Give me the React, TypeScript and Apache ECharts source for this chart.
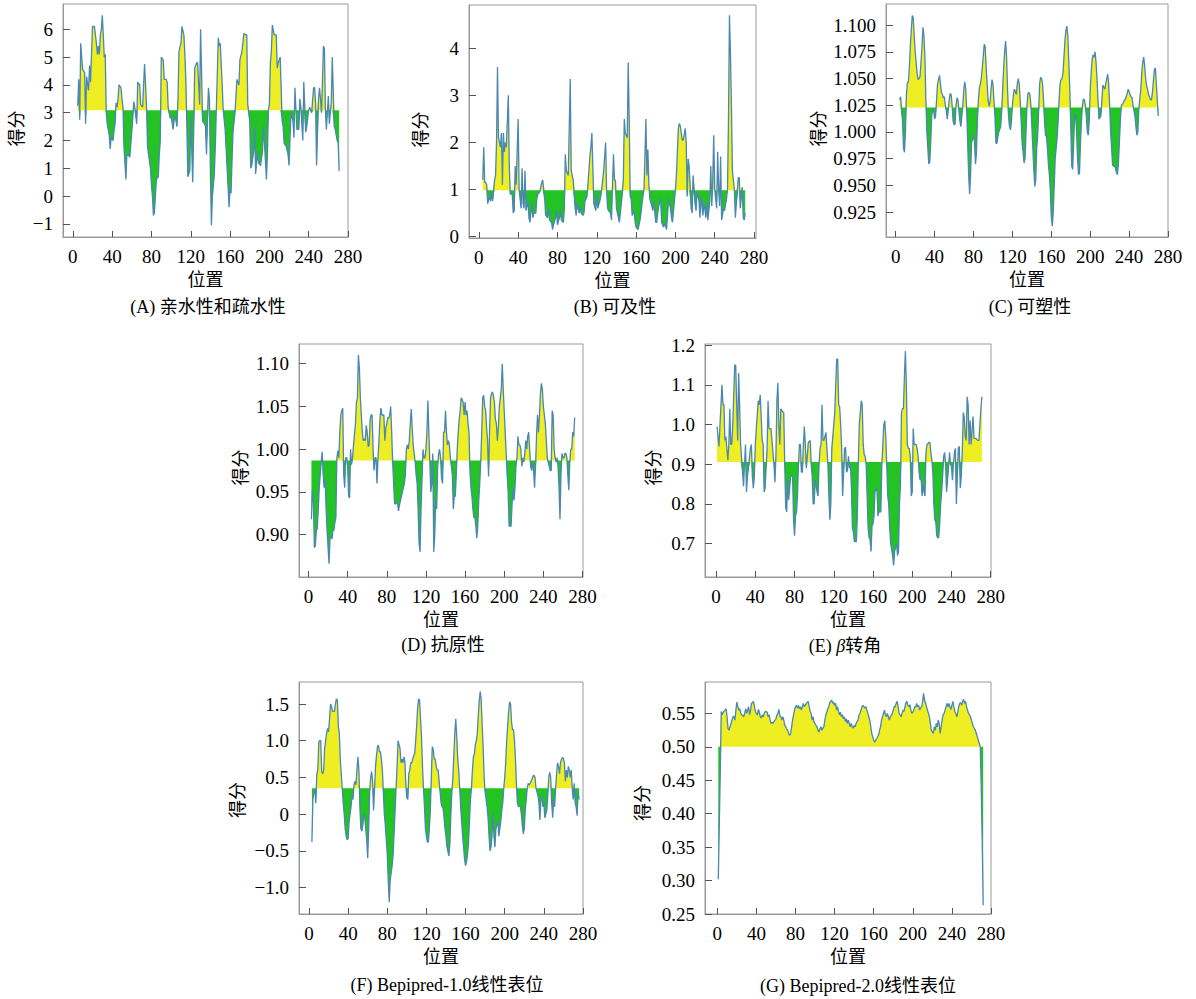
import React, { useEffect, useRef } from 'react';
import * as echarts from 'echarts';

// ---------- data: [position, score] ----------
const hydroA: number[][] = [[5,3.25],[6,4.2],[7,2.75],[8,5.5],[10,4.55],[12,4.45],[13,2.6],[14,4.3],[16,3.8],[17,4.7],[18,4.1],[20,6.1],[22,6.1],[24,5.5],[25,5.1],[26,5.4],[27,5.1],[28,5.8],[29,6.0],[30,6.5],[31,5.8],[32,5.0],[33,5.1],[34,3.0],[35,2.6],[37,2.2],[38,1.7],[39,2.1],[41,2.0],[42,2.4],[43,2.6],[44,3.35],[45,3.2],[46,3.5],[47,4.0],[49,3.9],[50,3.5],[51,3.2],[52,1.8],[54,0.6],[55,1.5],[57,1.45],[58,1.4],[60,2.3],[61,2.8],[62,3.4],[63,3.2],[65,2.6],[66,4.1],[68,4.0],[69,3.3],[71,3.2],[72,4.0],[73,4.75],[74,4.0],[75,3.2],[76,1.8],[77,1.5],[79,1.0],[80,0.4],[81,0.0],[82,-0.7],[83,-0.6],[84,0.0],[85,0.6],[87,0.7],[88,1.5],[89,2.0],[90,5.0],[92,4.9],[93,4.2],[95,4.2],[96,4.1],[97,3.2],[99,2.8],[100,2.9],[102,2.4],[103,2.7],[104,2.9],[106,2.5],[107,3.5],[108,5.2],[110,5.5],[111,6.1],[113,5.8],[114,5.1],[115,4.2],[116,2.6],[117,0.7],[119,0.9],[120,2.8],[122,0.5],[123,2.4],[124,4.6],[126,4.8],[127,4.8],[129,3.3],[130,6.0],[131,4.5],[132,2.7],[134,2.6],[135,2.5],[136,1.5],[138,3.9],[139,3.5],[140,0.8],[141,-1.05],[142,0.0],[144,0.8],[145,1.8],[146,3.1],[148,5.7],[149,5.4],[150,5.5],[152,4.0],[153,3.1],[155,2.4],[157,1.0],[159,-0.4],[160,0.3],[161,0.1],[162,1.3],[163,2.3],[165,3.0],[166,3.6],[167,4.2],[169,4.0],[170,4.9],[172,5.2],[173,5.5],[174,5.85],[176,5.8],[177,5.8],[178,3.3],[180,2.7],[181,1.0],[182,1.1],[184,1.6],[185,2.5],[186,0.8],[188,1.6],[189,1.2],[191,1.1],[193,1.6],[194,2.5],[195,1.9],[197,0.6],[198,1.5],[199,3.1],[200,3.3],[201,4.8],[202,5.2],[203,6.15],[205,5.8],[207,5.8],[208,4.6],[209,4.8],[211,5.0],[213,2.7],[214,2.5],[215,1.9],[217,1.8],[219,1.5],[220,1.1],[222,3.0],[224,2.7],[225,2.1],[226,3.9],[227,3.1],[228,2.4],[230,2.4],[231,3.5],[232,3.2],[234,2.0],[235,4.1],[237,2.3],[238,2.5],[240,3.1],[241,3.2],[243,3.0],[245,3.9],[246,3.9],[247,3.4],[248,1.1],[250,3.5],[251,3.9],[252,3.5],[253,3.0],[254,4.1],[255,5.4],[256,5.3],[257,3.1],[258,2.4],[259,3.0],[260,3.6],[261,2.6],[262,3.0],[263,3.4],[264,5.0],[266,2.5],[267,2.4],[269,2.0],[270,1.9],[271,0.9]];

const accessB: number[][] = [[4,1.2],[5,1.9],[6,1.15],[7,1.15],[8,1.1],[9,0.7],[11,0.85],[12,0.75],[13,0.95],[14,0.75],[16,1.2],[17,1.3],[18,2.0],[19,3.6],[20,2.1],[22,1.9],[23,2.2],[24,1.1],[25,2.2],[26,1.8],[27,2.0],[28,1.9],[30,3.0],[31,1.5],[32,0.9],[34,0.9],[35,0.5],[36,0.55],[37,1.5],[38,1.1],[40,2.5],[41,1.0],[42,0.8],[43,0.6],[44,1.45],[45,0.7],[46,0.6],[47,1.4],[48,0.55],[50,0.75],[51,0.4],[52,0.3],[54,0.7],[55,0.4],[56,0.5],[58,0.5],[59,0.8],[60,0.9],[62,0.95],[64,1.15],[65,1.2],[67,0.8],[68,0.45],[70,0.4],[71,0.6],[72,0.35],[74,0.3],[75,0.15],[76,0.25],[78,0.4],[79,0.55],[80,0.25],[82,0.4],[83,0.55],[84,0.35],[86,0.3],[87,0.6],[88,1.75],[89,1.4],[91,1.3],[93,3.35],[94,1.4],[95,1.3],[96,1.2],[98,0.6],[99,0.45],[100,0.7],[102,0.5],[103,0.65],[104,0.5],[106,0.45],[107,0.5],[108,0.75],[110,0.85],[111,1.1],[113,1.7],[114,1.9],[115,2.2],[116,1.5],[117,0.7],[119,0.55],[120,0.9],[121,0.6],[123,0.75],[124,0.85],[125,1.0],[127,1.4],[128,1.7],[129,2.0],[130,1.0],[131,0.6],[132,0.55],[134,0.5],[135,0.35],[136,1.1],[137,1.75],[138,1.2],[139,1.2],[140,0.6],[141,0.5],[143,0.3],[144,0.5],[145,0.7],[147,1.2],[148,2.5],[149,2.2],[151,2.1],[152,3.7],[153,2.5],[154,0.85],[155,0.8],[156,0.45],[158,0.55],[159,0.3],[160,0.2],[162,0.15],[163,0.25],[164,0.35],[165,0.5],[166,0.7],[168,1.0],[169,1.7],[170,2.5],[171,1.3],[172,1.85],[173,1.1],[174,0.8],[176,0.65],[177,0.55],[178,0.75],[180,0.3],[181,0.3],[182,0.5],[184,0.75],[185,0.8],[186,0.3],[188,0.2],[189,0.3],[191,0.15],[192,0.45],[193,0.8],[195,0.6],[196,0.4],[197,0.3],[199,0.75],[200,1.0],[201,1.3],[203,2.3],[204,2.4],[205,2.35],[207,2.05],[208,2.05],[210,2.3],[211,2.0],[212,0.85],[213,1.65],[214,1.5],[216,0.6],[217,0.5],[218,1.3],[220,0.7],[221,0.55],[222,0.95],[224,0.75],[225,0.4],[226,0.85],[228,0.45],[229,0.75],[231,0.4],[232,0.7],[233,0.35],[235,0.75],[236,1.5],[237,0.65],[238,1.2],[239,2.15],[240,1.0],[242,0.6],[243,1.8],[244,1.0],[245,0.65],[246,1.7],[247,0.35],[249,0.6],[250,0.55],[252,0.8],[253,1.0],[254,2.5],[255,4.7],[256,3.9],[257,2.8],[258,1.4],[260,1.0],[261,0.4],[262,0.7],[264,1.25],[265,1.25],[266,0.6],[268,1.05],[269,0.4],[270,0.35],[271,0.5]];

const flexC: number[][] = [[4,1.030],[5,1.033],[7,1.010],[8,0.985],[9,0.981],[10,1.000],[11,1.035],[12,1.046],[13,1.047],[14,1.060],[15,1.080],[16,1.095],[17,1.109],[18,1.107],[19,1.090],[20,1.075],[22,1.055],[23,1.049],[24,1.050],[25,1.052],[26,1.065],[27,1.080],[28,1.098],[29,1.090],[30,1.070],[31,1.030],[32,1.000],[34,0.970],[35,0.972],[36,0.990],[37,1.015],[38,1.021],[39,1.020],[40,1.012],[41,1.015],[42,1.030],[43,1.045],[45,1.053],[46,1.045],[47,1.037],[48,1.035],[49,1.032],[50,1.033],[51,1.025],[52,1.020],[53,1.012],[54,1.020],[55,1.030],[56,1.036],[57,1.035],[58,1.025],[59,1.010],[60,1.007],[61,1.007],[62,1.025],[63,1.032],[64,1.030],[65,1.020],[66,1.010],[67,1.005],[68,1.015],[69,1.025],[70,1.040],[71,1.047],[72,1.040],[73,1.020],[74,0.990],[75,0.960],[76,0.942],[77,0.960],[78,0.990],[80,0.997],[81,0.990],[82,0.970],[83,0.980],[84,1.010],[85,1.030],[86,1.041],[87,1.045],[88,1.050],[89,1.060],[90,1.070],[91,1.082],[92,1.080],[93,1.060],[94,1.045],[95,1.030],[96,1.024],[97,1.028],[98,1.040],[99,1.049],[100,1.045],[101,1.030],[102,1.015],[103,0.990],[104,0.989],[105,0.995],[106,1.000],[108,1.005],[109,1.020],[110,1.040],[111,1.060],[112,1.075],[113,1.085],[114,1.070],[115,1.040],[116,1.015],[117,1.005],[118,1.002],[119,1.010],[120,1.025],[121,1.035],[122,1.040],[123,1.038],[124,1.035],[125,1.045],[126,1.050],[127,1.045],[128,1.030],[129,1.010],[130,0.990],[132,0.971],[133,0.975],[134,1.000],[135,1.025],[136,1.036],[137,1.037],[138,1.035],[139,1.025],[140,1.005],[141,0.985],[142,0.965],[143,0.949],[144,0.955],[145,0.985],[146,0.996],[147,1.020],[148,1.045],[149,1.051],[150,1.050],[151,1.045],[152,1.030],[153,1.010],[154,0.997],[155,0.996],[156,0.985],[157,0.970],[158,0.960],[159,0.945],[160,0.920],[161,0.912],[162,0.925],[163,0.950],[164,0.975],[166,0.995],[167,1.010],[168,1.030],[169,1.045],[170,1.049],[171,1.050],[172,1.055],[173,1.070],[174,1.085],[175,1.095],[176,1.099],[177,1.090],[178,1.065],[179,1.040],[180,1.005],[181,0.968],[182,0.965],[183,0.990],[184,1.017],[185,1.015],[186,1.000],[187,0.975],[188,0.960],[189,0.962],[190,0.990],[191,1.010],[192,1.025],[193,1.031],[194,1.030],[195,1.025],[196,1.015],[197,1.000],[198,0.997],[199,1.010],[200,1.040],[201,1.055],[202,1.068],[203,1.072],[204,1.070],[205,1.075],[206,1.065],[207,1.050],[208,1.030],[209,1.012],[211,1.015],[212,1.030],[213,1.044],[214,1.042],[215,1.040],[216,1.045],[217,1.050],[218,1.054],[219,1.045],[220,1.025],[221,1.000],[222,0.985],[223,0.969],[224,0.968],[225,0.968],[226,0.966],[227,0.962],[228,0.960],[229,0.970],[230,0.990],[231,1.010],[232,1.025],[233,1.026],[234,1.027],[235,1.030],[236,1.030],[237,1.033],[238,1.036],[239,1.040],[240,1.038],[241,1.035],[242,1.033],[243,1.032],[244,1.025],[245,1.020],[246,1.015],[247,1.005],[248,0.997],[249,1.000],[250,1.022],[252,1.040],[253,1.055],[254,1.065],[255,1.070],[256,1.062],[257,1.050],[258,1.043],[259,1.040],[260,1.035],[261,1.033],[262,1.030],[263,1.030],[264,1.037],[265,1.048],[266,1.058],[267,1.060],[268,1.045],[269,1.030],[270,1.015]];

const antigenD: number[][] = [[3,0.918],[4,0.952],[5,0.940],[6,0.885],[7,0.887],[8,0.905],[9,0.907],[10,0.930],[11,0.955],[12,0.970],[13,0.985],[14,0.997],[15,0.970],[16,0.955],[17,0.965],[18,0.930],[19,0.905],[20,0.885],[21,0.866],[22,0.895],[23,0.900],[24,0.895],[25,0.905],[26,0.905],[27,0.915],[28,0.920],[29,0.990],[30,0.998],[31,0.990],[32,1.020],[33,1.040],[34,1.045],[35,1.048],[36,0.970],[37,0.955],[38,0.990],[39,0.990],[40,0.980],[41,0.945],[42,0.943],[43,1.000],[44,0.982],[45,0.990],[46,1.005],[48,1.030],[49,1.055],[50,1.060],[51,1.110],[52,1.095],[53,1.060],[54,1.040],[55,1.020],[56,1.010],[57,1.012],[58,1.010],[59,1.028],[60,1.020],[61,1.003],[62,1.005],[63,1.035],[64,1.040],[65,1.040],[66,1.000],[67,0.975],[68,0.990],[69,0.990],[70,0.960],[71,0.990],[72,1.010],[73,1.035],[74,1.048],[75,1.040],[76,1.040],[77,1.040],[78,1.010],[79,1.025],[80,1.030],[81,1.037],[82,1.036],[83,1.040],[84,1.050],[85,1.020],[86,0.985],[87,0.960],[88,0.936],[89,0.936],[90,0.937],[91,0.936],[92,0.928],[93,0.935],[94,0.940],[95,0.945],[97,0.955],[98,0.960],[99,0.970],[100,1.000],[101,1.005],[102,1.000],[103,1.010],[104,1.030],[105,1.047],[106,1.025],[107,1.005],[108,0.995],[109,0.985],[110,0.970],[111,0.960],[112,0.930],[113,0.890],[114,0.880],[115,0.930],[116,0.965],[117,1.000],[118,0.990],[119,0.990],[120,1.000],[121,1.020],[122,1.057],[123,1.020],[124,0.985],[125,0.950],[126,0.960],[127,0.995],[128,0.880],[129,0.900],[130,0.940],[131,0.930],[132,0.980],[133,0.995],[134,1.000],[135,0.990],[136,0.965],[137,0.960],[138,1.020],[139,1.020],[140,1.045],[141,1.020],[142,1.005],[143,1.010],[144,1.005],[145,0.990],[147,0.970],[148,0.930],[149,0.945],[150,0.945],[151,0.970],[152,1.000],[153,1.020],[154,1.035],[155,1.045],[156,1.060],[157,1.058],[158,1.055],[159,1.040],[160,1.055],[161,1.040],[162,1.045],[163,1.030],[164,1.020],[165,0.975],[166,0.955],[167,0.945],[168,0.930],[169,0.920],[170,0.920],[171,0.910],[172,0.896],[173,0.910],[174,0.940],[175,0.960],[176,0.985],[177,1.020],[178,1.060],[179,1.063],[180,1.050],[181,1.045],[182,1.025],[183,1.010],[184,0.968],[185,1.020],[186,1.060],[187,1.065],[188,1.067],[189,1.062],[190,1.055],[191,1.035],[192,1.030],[193,1.010],[194,1.025],[195,1.050],[197,1.070],[198,1.100],[199,1.070],[200,1.045],[201,1.020],[202,0.995],[203,0.970],[204,0.950],[205,0.910],[206,0.910],[207,0.910],[208,0.935],[209,0.955],[210,0.940],[211,0.955],[212,0.980],[213,0.990],[214,1.015],[215,1.005],[216,1.005],[217,1.000],[218,0.980],[219,0.990],[220,0.985],[221,0.995],[222,1.010],[223,1.000],[224,1.015],[225,1.020],[226,1.000],[227,0.980],[228,0.975],[229,0.985],[230,0.975],[231,0.955],[232,0.980],[233,1.015],[234,1.040],[235,1.020],[236,1.040],[237,1.065],[238,1.077],[239,1.070],[240,1.050],[241,1.040],[242,1.030],[243,1.010],[244,0.990],[245,0.985],[247,0.975],[248,0.975],[249,1.045],[250,1.040],[251,1.000],[252,0.990],[253,0.985],[254,0.990],[255,0.980],[256,0.955],[257,0.918],[258,0.970],[259,0.995],[260,0.990],[261,0.990],[262,0.995],[263,0.995],[264,0.990],[265,0.970],[266,0.952],[267,0.985],[268,1.000],[269,1.000],[270,1.020],[271,1.015],[272,1.037]];

const betaE: number[][] = [[1,0.995],[3,0.945],[4,1.0],[6,1.1],[7,1.05],[8,1.05],[9,0.96],[10,0.97],[12,0.91],[13,0.95],[14,1.04],[15,0.95],[16,0.95],[17,1.0],[19,1.15],[20,1.15],[21,1.05],[22,0.96],[23,1.13],[24,1.05],[25,0.95],[27,0.88],[28,0.845],[29,0.9],[30,0.95],[31,0.83],[32,0.87],[33,0.89],[35,0.94],[36,0.95],[37,0.87],[38,0.84],[39,0.87],[40,0.95],[41,0.99],[43,1.06],[44,1.05],[45,1.075],[46,1.02],[47,0.96],[48,0.95],[49,0.83],[50,0.84],[51,0.89],[52,0.94],[53,1.06],[54,0.99],[56,0.99],[57,0.96],[58,0.93],[59,0.9],[60,0.855],[61,0.92],[62,1.06],[63,1.105],[64,1.0],[65,0.95],[66,1.04],[67,1.035],[69,1.03],[70,0.9],[71,0.79],[72,0.78],[73,0.86],[74,0.81],[75,0.84],[76,0.87],[78,0.87],[79,0.76],[80,0.72],[81,0.77],[82,0.78],[83,0.82],[84,0.9],[85,0.95],[86,0.95],[87,0.88],[88,0.88],[89,0.95],[90,0.995],[91,0.95],[92,0.89],[93,0.92],[94,0.955],[96,0.96],[97,0.9],[98,0.87],[99,0.8],[100,0.8],[101,0.86],[103,0.83],[104,0.82],[105,0.9],[106,0.94],[107,0.95],[108,1.05],[109,0.96],[110,0.96],[112,0.98],[113,0.94],[114,0.9],[115,0.82],[116,0.76],[117,0.8],[118,0.94],[120,1.0],[121,1.03],[122,1.1],[123,1.165],[124,1.165],[125,1.05],[126,1.045],[127,1.0],[128,0.945],[129,0.82],[130,0.875],[131,0.94],[132,0.943],[133,0.88],[134,0.885],[135,0.92],[136,0.89],[137,0.9],[138,0.84],[139,0.74],[140,0.73],[141,0.705],[143,0.705],[144,0.77],[145,0.9],[146,1.0],[148,1.06],[149,1.05],[150,0.95],[151,0.925],[152,0.92],[153,0.9],[154,0.82],[155,0.74],[156,0.715],[157,0.71],[158,0.68],[159,0.745],[160,0.75],[161,0.77],[162,0.83],[163,0.835],[164,0.84],[165,0.77],[166,0.78],[167,0.78],[168,0.78],[169,0.9],[170,0.95],[171,1.0],[172,1.01],[173,0.97],[174,0.9],[175,0.82],[176,0.8],[177,0.74],[178,0.7],[180,0.67],[181,0.645],[182,0.68],[183,0.69],[184,0.7],[185,0.67],[186,0.68],[187,0.8],[188,0.85],[189,1.03],[190,1.04],[191,1.04],[192,1.12],[193,1.185],[194,1.1],[195,0.95],[196,0.94],[197,0.94],[198,0.92],[199,0.82],[200,0.83],[201,0.99],[202,0.95],[203,0.95],[204,0.95],[205,0.94],[206,0.92],[207,0.88],[208,0.86],[209,0.87],[210,0.82],[211,0.85],[212,0.83],[213,0.82],[214,0.93],[215,0.95],[217,0.955],[218,0.955],[219,0.93],[220,0.91],[221,0.88],[222,0.8],[223,0.76],[224,0.755],[225,0.72],[226,0.715],[227,0.715],[228,0.75],[229,0.8],[230,0.83],[231,0.87],[232,0.92],[233,0.93],[234,0.9],[235,0.83],[236,0.86],[237,0.89],[238,0.93],[239,0.9],[240,0.895],[241,0.86],[242,0.9],[243,0.93],[244,0.94],[245,0.8],[246,0.87],[247,0.94],[248,0.945],[249,0.84],[250,0.87],[251,0.93],[252,1.03],[253,1.02],[254,0.97],[255,0.96],[256,1.07],[257,1.05],[258,0.95],[259,1.01],[260,0.95],[262,1.02],[263,0.965],[264,0.965],[265,0.965],[266,0.962],[267,0.96],[268,0.96],[269,1.0],[270,1.04],[271,1.07]];

const bepi1F: number[][] = [[3,-0.38],[4,0.2],[5,0.3],[6,0.33],[7,0.15],[8,0.55],[9,0.6],[10,0.98],[11,1.0],[12,1.0],[13,0.58],[14,0.55],[15,0.6],[16,0.9],[17,1.0],[18,1.1],[19,1.17],[20,1.12],[21,1.3],[22,1.5],[23,1.47],[24,1.4],[25,1.4],[26,1.4],[27,1.5],[28,1.57],[29,1.55],[30,1.2],[31,1.1],[32,0.75],[33,0.55],[34,0.35],[35,0.15],[36,0.0],[37,-0.2],[38,-0.3],[39,-0.35],[40,-0.33],[41,-0.1],[43,0.1],[44,0.25],[45,0.2],[46,0.4],[47,0.45],[48,0.4],[49,0.6],[50,0.78],[51,0.6],[52,0.1],[53,-0.2],[54,-0.23],[55,-0.15],[56,0.0],[57,-0.05],[58,-0.2],[59,-0.35],[60,-0.6],[61,-0.2],[62,0.3],[63,0.5],[64,0.58],[65,0.45],[66,0.05],[67,0.35],[68,0.65],[69,0.8],[70,0.92],[71,0.94],[72,0.85],[73,0.85],[74,0.75],[75,0.6],[76,0.3],[77,0.0],[78,-0.15],[79,-0.35],[80,-0.55],[81,-0.9],[82,-1.2],[83,-0.9],[84,-0.8],[85,-0.7],[86,-0.55],[87,-0.25],[88,0.05],[89,0.35],[90,0.65],[91,1.0],[93,0.9],[94,0.7],[95,0.75],[96,0.7],[97,0.78],[98,0.72],[99,0.4],[100,0.22],[101,0.2],[102,0.55],[103,0.6],[104,0.7],[105,0.7],[106,0.75],[107,0.8],[108,0.82],[109,1.0],[110,1.2],[111,1.45],[112,1.57],[113,1.55],[114,1.3],[115,1.05],[116,0.65],[117,0.35],[118,0.1],[119,-0.2],[120,-0.3],[121,-0.38],[122,-0.38],[123,-0.2],[124,0.05],[125,0.5],[126,0.92],[127,0.88],[128,0.75],[129,0.75],[130,0.65],[131,0.6],[132,0.6],[133,0.45],[134,0.3],[135,0.15],[136,0.1],[137,0.08],[138,-0.05],[139,-0.2],[140,-0.3],[141,-0.45],[143,-0.57],[144,-0.4],[145,0.0],[146,0.3],[147,0.5],[148,0.8],[149,1.1],[150,1.3],[151,1.05],[152,0.75],[153,0.6],[154,0.35],[155,0.1],[156,-0.1],[157,-0.3],[158,-0.45],[159,-0.62],[160,-0.7],[161,-0.65],[162,-0.55],[163,-0.4],[164,-0.1],[165,0.2],[166,0.35],[167,0.6],[168,0.78],[169,0.82],[170,0.95],[171,1.0],[172,1.1],[173,1.35],[174,1.55],[175,1.67],[176,1.55],[177,1.2],[178,0.9],[179,0.5],[180,0.3],[181,0.2],[182,0.1],[183,-0.05],[184,-0.3],[185,-0.5],[186,-0.45],[187,-0.3],[188,0.0],[189,-0.3],[190,-0.45],[191,-0.2],[193,-0.1],[194,-0.3],[195,-0.2],[196,-0.1],[197,0.05],[198,0.15],[199,0.35],[200,0.5],[201,0.7],[202,1.0],[203,1.2],[204,1.4],[205,1.53],[206,1.5],[207,1.25],[208,1.15],[209,1.15],[210,1.0],[211,0.75],[212,0.4],[213,0.15],[214,0.1],[215,0.12],[216,0.1],[217,0.0],[218,-0.15],[219,-0.27],[220,-0.2],[221,0.05],[222,0.2],[223,0.35],[224,0.42],[225,0.4],[226,0.42],[227,0.45],[228,0.48],[229,0.52],[230,0.53],[231,0.5],[232,0.35],[233,0.3],[234,0.25],[235,0.15],[236,-0.08],[237,0.2],[238,0.25],[239,0.1],[240,0.15],[241,-0.05],[243,0.05],[244,0.25],[245,0.5],[246,0.57],[247,0.5],[248,0.15],[249,-0.05],[250,0.2],[251,0.1],[252,0.35],[253,0.55],[254,0.7],[255,0.65],[256,0.55],[257,0.7],[258,0.75],[259,0.77],[260,0.76],[261,0.7],[262,0.45],[263,0.6],[264,0.5],[265,0.65],[266,0.6],[267,0.5],[268,0.6],[269,0.35],[270,0.2],[271,0.42],[272,0.15],[273,0.1],[274,-0.02],[275,0.3],[276,0.2]];

const bepi2G: number[][] = [[1,0.302],[3,0.46],[4,0.553],[5,0.548],[6,0.552],[8,0.555],[9,0.557],[10,0.545],[11,0.527],[12,0.525],[13,0.53],[14,0.535],[15,0.54],[16,0.545],[17,0.545],[18,0.54],[19,0.555],[20,0.567],[21,0.56],[22,0.555],[23,0.557],[24,0.55],[25,0.548],[26,0.547],[27,0.545],[28,0.55],[29,0.557],[30,0.55],[31,0.555],[32,0.56],[33,0.548],[34,0.555],[35,0.565],[36,0.566],[37,0.568],[38,0.56],[39,0.553],[40,0.55],[41,0.548],[42,0.556],[43,0.552],[44,0.545],[45,0.543],[46,0.548],[47,0.545],[48,0.55],[49,0.553],[51,0.552],[52,0.545],[53,0.548],[54,0.54],[55,0.535],[56,0.537],[57,0.535],[58,0.538],[59,0.54],[60,0.542],[61,0.548],[62,0.55],[63,0.556],[64,0.546],[65,0.545],[66,0.54],[67,0.545],[68,0.54],[69,0.532],[70,0.53],[71,0.527],[72,0.525],[73,0.52],[74,0.517],[75,0.52],[76,0.53],[77,0.54],[78,0.548],[79,0.555],[80,0.56],[81,0.562],[82,0.558],[83,0.562],[84,0.557],[85,0.56],[86,0.555],[87,0.56],[88,0.565],[89,0.56],[90,0.562],[91,0.565],[93,0.568],[94,0.56],[95,0.553],[96,0.55],[97,0.54],[98,0.545],[99,0.537],[100,0.535],[101,0.532],[102,0.53],[103,0.525],[104,0.522],[105,0.527],[106,0.53],[107,0.525],[108,0.528],[109,0.53],[110,0.54],[111,0.548],[112,0.552],[113,0.557],[114,0.56],[115,0.566],[116,0.568],[117,0.57],[118,0.565],[119,0.567],[120,0.562],[121,0.565],[122,0.555],[123,0.56],[124,0.553],[125,0.548],[126,0.552],[127,0.545],[128,0.548],[129,0.542],[130,0.545],[131,0.538],[132,0.542],[133,0.535],[134,0.54],[136,0.53],[137,0.535],[138,0.53],[139,0.528],[140,0.532],[141,0.53],[142,0.535],[143,0.538],[144,0.54],[145,0.548],[146,0.55],[147,0.555],[148,0.56],[149,0.562],[150,0.56],[151,0.558],[152,0.56],[153,0.555],[154,0.55],[155,0.545],[156,0.54],[157,0.53],[158,0.52],[159,0.515],[160,0.51],[161,0.507],[162,0.51],[163,0.512],[164,0.515],[165,0.518],[166,0.525],[167,0.53],[168,0.54],[169,0.545],[170,0.55],[171,0.555],[172,0.548],[173,0.545],[174,0.55],[175,0.545],[176,0.54],[177,0.545],[179,0.55],[180,0.555],[181,0.56],[182,0.56],[183,0.565],[184,0.568],[185,0.56],[186,0.55],[187,0.548],[188,0.545],[189,0.55],[190,0.555],[191,0.553],[192,0.56],[193,0.566],[194,0.568],[195,0.562],[196,0.56],[197,0.563],[198,0.555],[199,0.55],[200,0.552],[201,0.555],[202,0.56],[203,0.56],[204,0.565],[205,0.56],[206,0.562],[207,0.555],[208,0.558],[209,0.56],[210,0.567],[211,0.58],[212,0.57],[213,0.566],[214,0.56],[215,0.555],[216,0.55],[217,0.545],[218,0.535],[219,0.525],[221,0.52],[222,0.53],[223,0.525],[224,0.535],[225,0.53],[226,0.54],[227,0.535],[228,0.52],[229,0.53],[230,0.54],[231,0.548],[232,0.55],[233,0.555],[234,0.56],[235,0.565],[236,0.56],[237,0.565],[238,0.56],[239,0.556],[240,0.562],[241,0.568],[242,0.56],[243,0.553],[244,0.55],[245,0.545],[246,0.552],[247,0.56],[248,0.565],[249,0.566],[250,0.562],[251,0.568],[252,0.571],[253,0.565],[254,0.568],[255,0.56],[256,0.555],[257,0.55],[258,0.548],[259,0.545],[260,0.54],[261,0.535],[262,0.53],[264,0.525],[265,0.52],[266,0.515],[267,0.51],[268,0.505],[269,0.5],[270,0.44],[271,0.36],[272,0.263]];

// ---------- tick labels ----------
const xTicks = [0, 40, 80, 120, 160, 200, 240, 280];
const ticksA = [-1, 0, 1, 2, 3, 4, 5, 6];
const ticksB = [0, 1, 2, 3, 4];
const ticksC = [0.925, 0.95, 0.975, 1.0, 1.025, 1.05, 1.075, 1.1];
const ticksD = [0.9, 0.95, 1.0, 1.05, 1.1];
const ticksE = [0.7, 0.8, 0.9, 1.0, 1.1, 1.2];
const ticksF = [-1, -0.5, 0, 0.5, 1, 1.5];
const ticksG = [0.25, 0.3, 0.35, 0.4, 0.45, 0.5, 0.55];

// thresholds (baseline of the coloured fill)
const thresholds = [3.09, 0.985, 1.0228, 0.9868, 0.906, 0.353, 0.5];

const captions = [
  '(A) 亲水性和疏水性',
  '(B) 可及性',
  '(C) 可塑性',
  '(D) 抗原性',
  '(E) {i|β}转角',
  '(F) Bepipred-1.0线性表位',
  '(G) Bepipred-2.0线性表位',
];

const FONT = "'Liberation Serif','Times New Roman','Noto Sans CJK SC',serif";
const YELLOW = '#eeee22';
const GREEN = '#22c322';
const LINE = '#4a87b3';

type Panel = {
  data: number[][];
  ticks: number[];
  dec: number;
  box: number[];
  xr: number[];
  yr: number[];
  nameGap: number;
  nameShift: number;
  cap: number[];
};

const panels: Panel[] = [
  { data: hydroA, ticks: ticksA, dec: 0, box: [63, 4, 285, 233], xr: [-10, 280], yr: [-1.47, 6.91], nameGap: 37, nameShift: 8, cap: [208, 307] },
  { data: accessB, ticks: ticksB, dec: 0, box: [469, 5, 287, 233], xr: [-10, 282], yr: [-0.03, 4.92], nameGap: 39, nameShift: 8, cap: [615, 307] },
  { data: flexC, ticks: ticksC, dec: 3, box: [886, 4, 282, 233], xr: [-10, 280], yr: [0.9018, 1.1197], nameGap: 58, nameShift: 8, cap: [1030, 307] },
  { data: antigenD, ticks: ticksD, dec: 2, box: [299, 344, 284, 233], xr: [-9.7, 280.5], yr: [0.8506, 1.123], nameGap: 49, nameShift: 7, cap: [443, 645] },
  { data: betaE, ticks: ticksE, dec: 1, box: [705, 344, 286, 233], xr: [-11.3, 280.3], yr: [0.616, 1.203], nameGap: 42, nameShift: 7, cap: [845, 646] },
  { data: bepi1F, ticks: ticksF, dec: 1, box: [299, 682, 284, 232], xr: [-10.2, 280], yr: [-1.36, 1.8], nameGap: 52, nameShift: 2, cap: [447, 985] },
  { data: bepi2G, ticks: ticksG, dec: 2, box: [705, 682, 286, 232], xr: [-12.6, 280], yr: [0.25, 0.597], nameGap: 53, nameShift: 5, cap: [858, 986] },
];

function fmt(v: number, dec: number): string {
  if (Math.abs(v) < 1e-9) return '0';
  return v.toFixed(dec).replace('-', '\u2212');
}

function buildOption(useCustom: boolean) {
  const grid: any[] = [];
  const xAxis: any[] = [];
  const yAxis: any[] = [];
  const series: any[] = [];
  const graphic: any[] = [];

  panels.forEach((p, k) => {
    const thr = thresholds[k];
    grid.push({
      left: p.box[0], top: p.box[1], width: p.box[2], height: p.box[3],
      show: true, borderColor: '#9a9a9a', borderWidth: 1, backgroundColor: 'transparent',
    });
    const xTick: any = { show: true, inside: true, length: 6, lineStyle: { color: '#555' } };
    const xLab: any = { fontFamily: FONT, fontSize: 19, color: '#000', margin: 10 };
    const yTick: any = { show: true, inside: true, length: 7, lineStyle: { color: '#555' } };
    const yLab: any = { fontFamily: FONT, fontSize: 19, color: '#000', margin: 10, formatter: (v: number) => fmt(v, p.dec) };
    if (useCustom) {
      xTick.customValues = xTicks; xLab.customValues = xTicks;
      yTick.customValues = p.ticks; yLab.customValues = p.ticks;
    }
    xAxis.push({
      gridIndex: k, type: 'value', min: p.xr[0], max: p.xr[1],
      name: '位置', nameLocation: 'middle', nameGap: 34,
      nameTextStyle: { fontFamily: FONT, fontSize: 18, color: '#000' },
      axisLine: { show: true, onZero: false, lineStyle: { color: '#999', width: 1 } },
      axisTick: xTick, axisLabel: xLab, splitLine: { show: false },
    });
    yAxis.push({
      gridIndex: k, type: 'value', min: p.yr[0], max: p.yr[1],
      name: '得分', nameLocation: 'middle', nameGap: p.nameGap, nameRotate: 90,
      nameTextStyle: { fontFamily: FONT, fontSize: 18, color: '#000', padding: [0, 2 * p.nameShift, 0, 0] },
      axisLine: { show: true, onZero: false, lineStyle: { color: '#999', width: 1 } },
      axisTick: yTick, axisLabel: yLab, splitLine: { show: false },
    });
    const upper = p.data.map((d) => [d[0], Math.max(d[1], thr)]);
    const lower = p.data.map((d) => [d[0], Math.min(d[1], thr)]);
    series.push({
      type: 'line', xAxisIndex: k, yAxisIndex: k, data: upper,
      symbol: 'none', silent: true, z: 1,
      lineStyle: { width: 0, opacity: 0 }, itemStyle: { color: YELLOW },
      areaStyle: { origin: thr, color: YELLOW, opacity: 1 },
    });
    series.push({
      type: 'line', xAxisIndex: k, yAxisIndex: k, data: lower,
      symbol: 'none', silent: true, z: 1,
      lineStyle: { width: 0, opacity: 0 }, itemStyle: { color: GREEN },
      areaStyle: { origin: thr, color: GREEN, opacity: 1 },
    });
    series.push({
      type: 'line', xAxisIndex: k, yAxisIndex: k, data: p.data,
      symbol: 'none', silent: true, z: 2,
      lineStyle: { width: 1.3, color: LINE }, itemStyle: { color: LINE },
    });
    graphic.push({
      type: 'text', x: p.cap[0], y: p.cap[1],
      style: {
        text: captions[k], fill: '#000', fontFamily: FONT, fontSize: 18,
        align: 'center', verticalAlign: 'middle',
        rich: { i: { fontStyle: 'italic', fontFamily: FONT, fontSize: 18, fill: '#000' } },
      },
    });
  });

  return { animation: false, backgroundColor: '#fff', grid, xAxis, yAxis, series, graphic };
}

export default function App() {
  const ref = useRef<HTMLDivElement>(null);

  useEffect(() => {
    document.body.style.margin = '0';
    const el = ref.current;
    if (!el) return;
    let chart = echarts.init(el, undefined, { renderer: 'svg' });
    try {
      chart.setOption(buildOption(true), true);
    } catch (e) {
      chart.dispose();
      chart = echarts.init(el, undefined, { renderer: 'svg' });
      chart.setOption(buildOption(false), true);
    }
    return () => chart.dispose();
  }, []);

  return <div ref={ref} style={{ position: 'absolute', left: 0, top: 0, width: 1196, height: 999 }} />;
}
